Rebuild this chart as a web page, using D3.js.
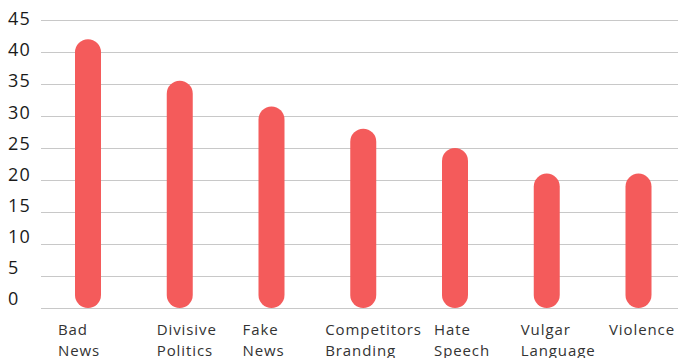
<!DOCTYPE html>
<html>
<head>
<meta charset="utf-8">
<script src="https://cdn.jsdelivr.net/npm/d3@7"></script>
<style>
  html, body { margin: 0; padding: 0; background: #fff; }
  svg { display: block; }
</style>
</head>
<body>
<svg id="chart" width="678" height="358"></svg>
<script>
// ---- data ----
const categories = [
  ["Bad", "News"],
  ["Divisive", "Politics"],
  ["Fake", "News"],
  ["Competitors", "Branding"],
  ["Hate", "Speech"],
  ["Vulgar", "Language"],
  ["Violence"]
];
const values = [42, 35.5, 31.5, 28, 25, 21, 21];
const yTicks = [0, 5, 10, 15, 20, 25, 30, 35, 40, 45];

// ---- layout (not data) ----
const labelOffsets = [-30, -23, -29, -38, -21, -26, -29.5];
const barColor = "#f45b5b";
const gridColor = "#c8c8c8";
const barWidth = 26;

const svg = d3.select("#chart");
const ids = categories.map((c, i) => i);

const y = d3.scaleLinear().domain([0, 45]).range([308, 20]);
const yLabel = d3.scaleLinear().domain([0, 45]).range([299, 18.7]);
const x = d3.scalePoint().domain(ids).range([88, 638.5]);

// grid lines
svg.append("g")
  .selectAll("line")
  .data(yTicks)
  .join("line")
  .attr("x1", 41)
  .attr("x2", 678)
  .attr("y1", d => Math.round(y(d)) + 0.5)
  .attr("y2", d => Math.round(y(d)) + 0.5)
  .attr("stroke", gridColor)
  .attr("stroke-width", 1);

// y tick labels
svg.append("g")
  .selectAll("text")
  .data(yTicks)
  .join("text")
  .attr("x", 8)
  .attr("y", d => yLabel(d))
  .attr("dy", "0.36em")
  .attr("font-family", "'Open Sans', sans-serif")
  .attr("font-size", 18)
  .attr("letter-spacing", 1.2)
  .attr("fill", "#1a1a1a")
  .text(d => d);

// bars
svg.append("g")
  .selectAll("rect")
  .data(values)
  .join("rect")
  .attr("x", (d, i) => x(i) - barWidth / 2)
  .attr("width", barWidth)
  .attr("y", d => y(d))
  .attr("height", d => y(0) - y(d))
  .attr("rx", barWidth / 2)
  .attr("ry", barWidth / 2)
  .attr("fill", barColor);

// category labels
const lab = svg.append("g")
  .selectAll("text")
  .data(categories)
  .join("text")
  .attr("x", (d, i) => x(i) + labelOffsets[i])
  .attr("y", 334.5)
  .attr("font-family", "'Open Sans', sans-serif")
  .attr("font-size", 15)
  .attr("letter-spacing", 0.9)
  .attr("fill", "#333");
lab.each(function(d, i) {
  const t = d3.select(this);
  d.forEach((line, k) => {
    t.append("tspan")
      .attr("x", x(i) + labelOffsets[i])
      .attr("dy", k === 0 ? 0 : 21.5)
      .text(line);
  });
});
</script>
</body>
</html>
